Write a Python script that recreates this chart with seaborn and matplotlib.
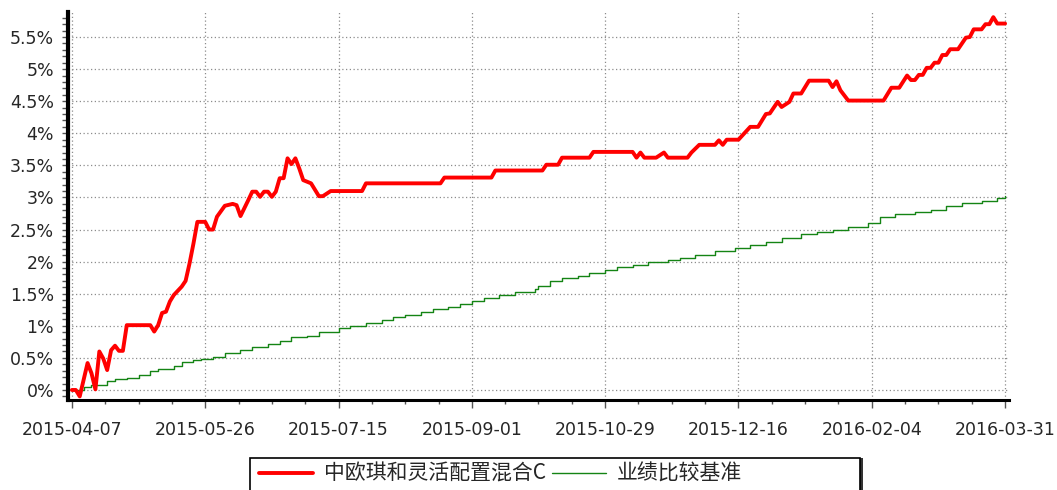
import matplotlib
matplotlib.use("Agg")
import matplotlib.pyplot as plt
import matplotlib.patches as mpatches
from matplotlib.ticker import MultipleLocator
import seaborn as sns

# Data (x = trading-day index since 2015-04-07)
fund_x = [0, 1, 2, 4, 5, 6, 7, 8, 9, 10, 11, 12, 13, 14, 20, 21, 22, 23, 24, 25,
          26, 28, 29, 30, 31, 32, 34, 35, 36, 37, 39, 41, 42, 43, 45, 46, 47, 48,
          49, 50, 51, 52, 53, 54, 55, 56, 57, 58, 59, 61, 63, 64, 66, 74, 75, 94,
          95, 107, 108, 120, 121, 124, 125, 132, 133, 143, 144, 145, 146, 149,
          151, 152, 157, 158, 160, 164, 165, 166, 167, 170, 173, 175, 177, 178,
          180, 181, 183, 184, 186, 188, 193, 194, 195, 196, 198, 207, 209, 211,
          213, 214, 215, 216, 217, 218, 219, 220, 221, 222, 223, 224, 226, 228,
          229, 230, 232, 233, 234, 235, 236, 238]
fund_y = [0.00, 0.00, -0.10, 0.42, 0.26, 0.01, 0.60, 0.49, 0.31, 0.62, 0.69,
          0.61, 0.61, 1.01, 1.01, 0.91, 1.01, 1.20, 1.22, 1.38, 1.48, 1.61, 1.70,
          1.97, 2.28, 2.62, 2.62, 2.50, 2.50, 2.70, 2.87, 2.90, 2.88, 2.71, 2.96,
          3.09, 3.09, 3.01, 3.09, 3.09, 3.01, 3.09, 3.30, 3.30, 3.61, 3.52, 3.61,
          3.45, 3.27, 3.22, 3.02, 3.02, 3.10, 3.10, 3.22, 3.22, 3.31, 3.31, 3.42,
          3.42, 3.51, 3.51, 3.62, 3.62, 3.71, 3.71, 3.62, 3.70, 3.62, 3.62, 3.70,
          3.62, 3.62, 3.70, 3.82, 3.82, 3.89, 3.82, 3.90, 3.90, 4.10, 4.10, 4.30,
          4.31, 4.49, 4.41, 4.49, 4.62, 4.62, 4.82, 4.82, 4.72, 4.81, 4.67, 4.51,
          4.51, 4.71, 4.71, 4.90, 4.83, 4.83, 4.91, 4.91, 5.02, 5.02, 5.10, 5.10,
          5.22, 5.22, 5.31, 5.31, 5.49, 5.50, 5.62, 5.62, 5.70, 5.70, 5.81, 5.71,
          5.71]

bench_x = [0, 3, 5, 8, 9, 11, 14, 17, 20, 22, 26, 28, 31, 33, 36, 39, 43, 46, 50,
           53, 56, 60, 63, 68, 71, 75, 79, 82, 85, 89, 92, 96, 99, 102, 105, 109,
           113, 118, 119, 122, 125, 129, 132, 136, 139, 143, 147, 152, 155, 159,
           164, 169, 173, 177, 181, 186, 190, 194, 198, 203, 205, 206, 210, 215,
           219, 223, 227, 232, 236, 238]
bench_y = [0.00, 0.05, 0.08, 0.08, 0.14, 0.17, 0.19, 0.24, 0.29, 0.32, 0.37,
           0.43, 0.47, 0.49, 0.52, 0.58, 0.63, 0.67, 0.71, 0.77, 0.82, 0.84, 0.90,
           0.96, 1.00, 1.04, 1.09, 1.13, 1.17, 1.21, 1.26, 1.30, 1.34, 1.39, 1.44,
           1.48, 1.52, 1.58, 1.62, 1.70, 1.74, 1.78, 1.82, 1.87, 1.91, 1.95, 2.00,
           2.02, 2.06, 2.11, 2.17, 2.22, 2.26, 2.31, 2.37, 2.43, 2.46, 2.49, 2.54,
           2.60, 2.60, 2.69, 2.74, 2.77, 2.81, 2.87, 2.91, 2.95, 2.99, 3.02]

tick_pos = [0, 34, 68, 102, 136, 170, 204, 238]
tick_labels = ["2015-04-07", "2015-05-26", "2015-07-15", "2015-09-01",
               "2015-10-29", "2015-12-16", "2016-02-04", "2016-03-31"]
y_ticks = [0, 0.5, 1, 1.5, 2, 2.5, 3, 3.5, 4, 4.5, 5, 5.5]
y_labels = ["0%", "0.5%", "1%", "1.5%", "2%", "2.5%", "3%", "3.5%", "4%",
            "4.5%", "5%", "5.5%"]

fund_name = "中欧琪和灵活配置混合C"
bench_name = "业绩比较基准"

sns.set_style("white")
plt.rcParams["font.family"] = ["DejaVu Sans", "Noto Sans CJK SC"]

fig = plt.figure(figsize=(10.57, 4.90), dpi=100)
ax = fig.add_axes([0.0643, 0.1837, 0.8903, 0.7918])

sns.lineplot(x=bench_x, y=bench_y, ax=ax, color="#148414", lw=1.0,
             drawstyle="steps-post", label=bench_name, zorder=3)
sns.lineplot(x=fund_x, y=fund_y, ax=ax, color="#ff0000", lw=2.8,
             label=fund_name, zorder=4)
ax.get_legend().remove()

ax.set_xlim(-1.0, 239.0)
ax.set_ylim(-0.156, 5.89)

# ticks + grid
ax.set_xticks(tick_pos)
ax.set_xticklabels(tick_labels, fontsize=12.5)
ax.xaxis.set_minor_locator(MultipleLocator(8.5))
ax.set_yticks(y_ticks)
ax.set_yticklabels(y_labels, fontsize=12.5)
ax.yaxis.set_minor_locator(MultipleLocator(0.1))
ax.grid(True, which="major", color="#8c8c8c", linestyle=(0, (1, 2)), lw=0.9)

ax.tick_params(axis="x", which="major", direction="out", length=6, width=1,
               color="#555555", pad=9, bottom=True)
ax.tick_params(axis="x", which="minor", direction="out", length=3, width=1,
               color="#555555", bottom=True)
ax.tick_params(axis="y", which="major", direction="out", length=4, width=1,
               color="#555555", pad=6, left=True)
ax.tick_params(axis="y", which="minor", direction="out", length=4, width=1,
               color="#555555", left=True)

for s in ["top", "right"]:
    ax.spines[s].set_visible(False)
ax.spines["left"].set_linewidth(3.0)
ax.spines["bottom"].set_linewidth(2.2)
ax.spines["left"].set_color("black")
ax.spines["bottom"].set_color("black")

# legend box with shadow, drawn by hand so it can be wider than its content
handles, labels = ax.get_lines()[::-1], [fund_name, bench_name]
fig.patches.append(mpatches.Rectangle((253 / 1057, -0.1), 610 / 1057, 0.165,
                                      transform=fig.transFigure, facecolor="#333333",
                                      edgecolor="none", zorder=0))
fig.patches.append(mpatches.Rectangle((250 / 1057, -0.1), 610 / 1057, 0.165,
                                      transform=fig.transFigure, facecolor="white",
                                      edgecolor="black", lw=1.2, zorder=1))
leg = fig.legend(handles, labels, loc="center left",
                 bbox_to_anchor=(259 / 1057, 0.0327), ncol=2, frameon=False,
                 borderpad=0, borderaxespad=0, handlelength=2.6,
                 handletextpad=0.5, columnspacing=0.3,
                 prop={"family": ["Noto Sans CJK SC", "DejaVu Sans"], "size": 15})
leg.set_zorder(5)

plt.savefig("out.png", dpi=100)
